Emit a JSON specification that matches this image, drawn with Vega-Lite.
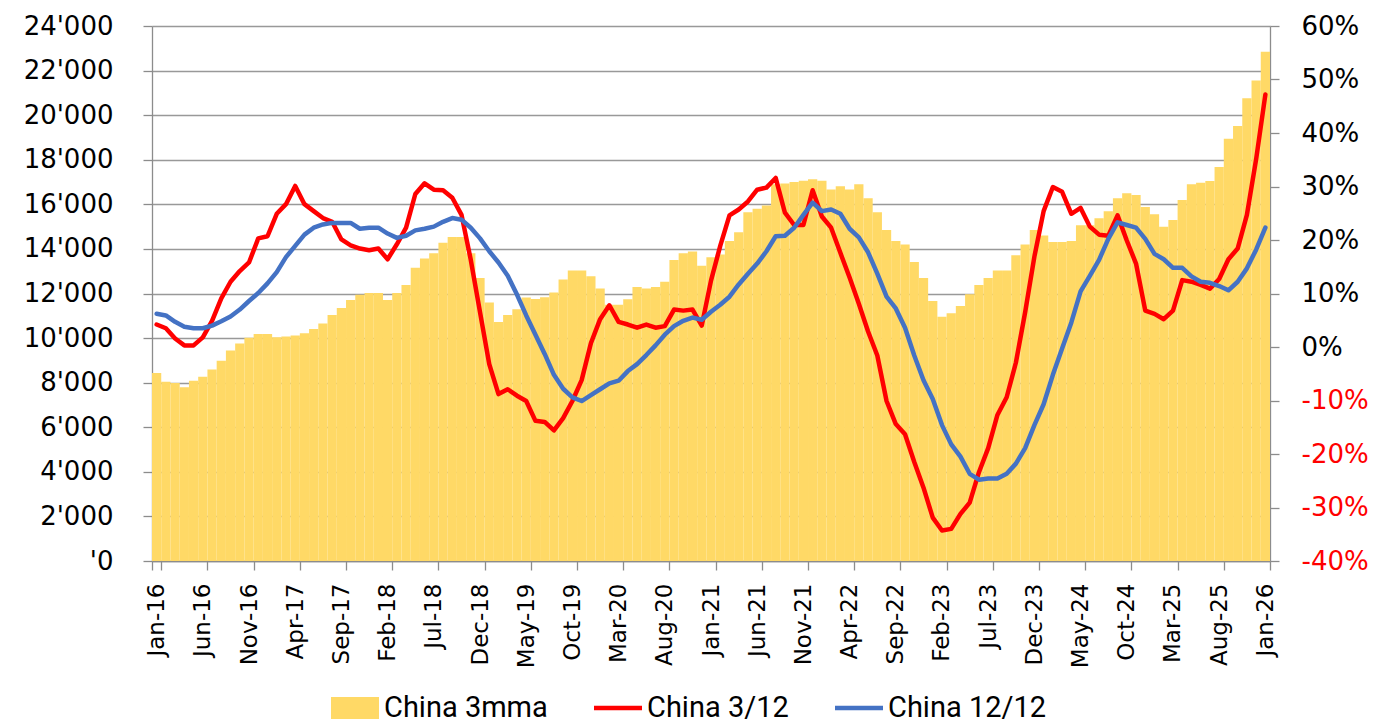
{
  "$schema": "https://vega.github.io/schema/vega-lite/v6.json",
  "width": 1118,
  "height": 535,
  "autosize": {"type": "none"},
  "padding": {"left": 152, "top": 26, "right": 103, "bottom": 163},
  "background": "white",
  "config": {
    "view": {"stroke": null},
    "axis": {
      "labelFont": "DejaVu Sans",
      "labelFontSize": 26,
      "labelColor": "#000000",
      "domainColor": "#8c8c8c",
      "tickColor": "#8c8c8c",
      "domainWidth": 1.3,
      "tickWidth": 1.3,
      "tickSize": 9,
      "gridColor": "#999999",
      "gridWidth": 1.4,
      "title": null
    }
  },
  "data": {
    "values": [
      {"m": "Jan-16", "mma": 8430, "r3": 4.2, "r12": 6.2},
      {"m": "Feb-16", "mma": 8040, "r3": 3.5, "r12": 5.9},
      {"m": "Mar-16", "mma": 7990, "r3": 1.6, "r12": 4.7},
      {"m": "Apr-16", "mma": 7800, "r3": 0.3, "r12": 3.8},
      {"m": "May-16", "mma": 8090, "r3": 0.3, "r12": 3.5},
      {"m": "Jun-16", "mma": 8270, "r3": 1.8, "r12": 3.5},
      {"m": "Jul-16", "mma": 8590, "r3": 4.9, "r12": 4.0},
      {"m": "Aug-16", "mma": 8980, "r3": 9.1, "r12": 4.8},
      {"m": "Sep-16", "mma": 9440, "r3": 12.2, "r12": 5.7},
      {"m": "Oct-16", "mma": 9760, "r3": 14.2, "r12": 7.0},
      {"m": "Nov-16", "mma": 10020, "r3": 15.8, "r12": 8.6},
      {"m": "Dec-16", "mma": 10180, "r3": 20.3, "r12": 10.1},
      {"m": "Jan-17", "mma": 10180, "r3": 20.7, "r12": 11.9},
      {"m": "Feb-17", "mma": 10040, "r3": 24.9, "r12": 14.0},
      {"m": "Mar-17", "mma": 10070, "r3": 26.7, "r12": 16.8},
      {"m": "Apr-17", "mma": 10115, "r3": 30.1, "r12": 18.9},
      {"m": "May-17", "mma": 10220, "r3": 26.7, "r12": 21.0},
      {"m": "Jun-17", "mma": 10410, "r3": 25.4, "r12": 22.3},
      {"m": "Jul-17", "mma": 10650, "r3": 24.1, "r12": 22.9},
      {"m": "Aug-17", "mma": 11040, "r3": 23.4, "r12": 23.2},
      {"m": "Sep-17", "mma": 11350, "r3": 20.1, "r12": 23.2},
      {"m": "Oct-17", "mma": 11710, "r3": 19.0, "r12": 23.2},
      {"m": "Nov-17", "mma": 11940, "r3": 18.4, "r12": 22.1},
      {"m": "Dec-17", "mma": 12020, "r3": 18.1, "r12": 22.3},
      {"m": "Jan-18", "mma": 12020, "r3": 18.4, "r12": 22.3},
      {"m": "Feb-18", "mma": 11710, "r3": 16.4, "r12": 21.2},
      {"m": "Mar-18", "mma": 12020, "r3": 19.2, "r12": 20.4},
      {"m": "Apr-18", "mma": 12380, "r3": 22.3, "r12": 20.8},
      {"m": "May-18", "mma": 13160, "r3": 28.6, "r12": 21.8},
      {"m": "Jun-18", "mma": 13570, "r3": 30.6, "r12": 22.1},
      {"m": "Jul-18", "mma": 13810, "r3": 29.4, "r12": 22.5},
      {"m": "Aug-18", "mma": 14280, "r3": 29.3, "r12": 23.4},
      {"m": "Sep-18", "mma": 14530, "r3": 27.9, "r12": 24.1},
      {"m": "Oct-18", "mma": 14530, "r3": 24.7, "r12": 23.8},
      {"m": "Nov-18", "mma": 13810, "r3": 16.3, "r12": 22.3},
      {"m": "Dec-18", "mma": 12690, "r3": 6.5, "r12": 20.3},
      {"m": "Jan-19", "mma": 11600, "r3": -3.2, "r12": 17.9},
      {"m": "Feb-19", "mma": 10720, "r3": -8.8, "r12": 15.8},
      {"m": "Mar-19", "mma": 11040, "r3": -7.9, "r12": 13.3},
      {"m": "Apr-19", "mma": 11290, "r3": -9.1, "r12": 9.8},
      {"m": "May-19", "mma": 11820, "r3": -10.1, "r12": 5.9},
      {"m": "Jun-19", "mma": 11750, "r3": -13.8, "r12": 2.3},
      {"m": "Jul-19", "mma": 11830, "r3": -14.0, "r12": -1.3},
      {"m": "Aug-19", "mma": 12040, "r3": -15.6, "r12": -5.2},
      {"m": "Sep-19", "mma": 12630, "r3": -13.3, "r12": -7.8},
      {"m": "Oct-19", "mma": 13030, "r3": -10.1, "r12": -9.4},
      {"m": "Nov-19", "mma": 13030, "r3": -6.2, "r12": -10.1},
      {"m": "Dec-19", "mma": 12770, "r3": 0.7, "r12": -9.0},
      {"m": "Jan-20", "mma": 12220, "r3": 5.2, "r12": -7.9},
      {"m": "Feb-20", "mma": 11500, "r3": 7.8, "r12": -6.8},
      {"m": "Mar-20", "mma": 11500, "r3": 4.7, "r12": -6.3},
      {"m": "Apr-20", "mma": 11740, "r3": 4.2, "r12": -4.5},
      {"m": "May-20", "mma": 12290, "r3": 3.6, "r12": -3.2},
      {"m": "Jun-20", "mma": 12220, "r3": 4.2, "r12": -1.5},
      {"m": "Jul-20", "mma": 12290, "r3": 3.6, "r12": 0.3},
      {"m": "Aug-20", "mma": 12530, "r3": 3.9, "r12": 2.3},
      {"m": "Sep-20", "mma": 13500, "r3": 7.0, "r12": 3.9},
      {"m": "Oct-20", "mma": 13810, "r3": 6.8, "r12": 4.9},
      {"m": "Nov-20", "mma": 13880, "r3": 7.0, "r12": 5.5},
      {"m": "Dec-20", "mma": 13250, "r3": 4.0, "r12": 5.1},
      {"m": "Jan-21", "mma": 13630, "r3": 12.4, "r12": 6.6},
      {"m": "Feb-21", "mma": 13750, "r3": 18.9, "r12": 7.9},
      {"m": "Mar-21", "mma": 14350, "r3": 24.6, "r12": 9.4},
      {"m": "Apr-21", "mma": 14750, "r3": 25.7, "r12": 11.7},
      {"m": "May-21", "mma": 15640, "r3": 27.2, "r12": 13.7},
      {"m": "Jun-21", "mma": 15800, "r3": 29.4, "r12": 15.6},
      {"m": "Jul-21", "mma": 15950, "r3": 29.8, "r12": 17.9},
      {"m": "Aug-21", "mma": 16900, "r3": 31.6, "r12": 20.7},
      {"m": "Sep-21", "mma": 16940, "r3": 25.1, "r12": 20.8},
      {"m": "Oct-21", "mma": 17000, "r3": 22.8, "r12": 22.3},
      {"m": "Nov-21", "mma": 17060, "r3": 22.8, "r12": 24.7},
      {"m": "Dec-21", "mma": 17120, "r3": 29.3, "r12": 27.0},
      {"m": "Jan-22", "mma": 17060, "r3": 24.4, "r12": 25.4},
      {"m": "Feb-22", "mma": 16660, "r3": 22.3, "r12": 25.7},
      {"m": "Mar-22", "mma": 16810, "r3": 17.6, "r12": 24.9},
      {"m": "Apr-22", "mma": 16670, "r3": 13.0, "r12": 22.1},
      {"m": "May-22", "mma": 16900, "r3": 8.1, "r12": 20.5},
      {"m": "Jun-22", "mma": 16270, "r3": 2.9, "r12": 17.7},
      {"m": "Jul-22", "mma": 15640, "r3": -1.6, "r12": 13.7},
      {"m": "Aug-22", "mma": 14850, "r3": -10.1, "r12": 9.4},
      {"m": "Sep-22", "mma": 14350, "r3": -14.4, "r12": 7.2},
      {"m": "Oct-22", "mma": 14200, "r3": -16.3, "r12": 3.6},
      {"m": "Nov-22", "mma": 13410, "r3": -21.5, "r12": -1.6},
      {"m": "Dec-22", "mma": 12690, "r3": -26.3, "r12": -6.2},
      {"m": "Jan-23", "mma": 11660, "r3": -31.9, "r12": -9.7},
      {"m": "Feb-23", "mma": 10960, "r3": -34.3, "r12": -14.6},
      {"m": "Mar-23", "mma": 11110, "r3": -34.0, "r12": -18.2},
      {"m": "Apr-23", "mma": 11440, "r3": -31.2, "r12": -20.5},
      {"m": "May-23", "mma": 11970, "r3": -29.1, "r12": -23.7},
      {"m": "Jun-23", "mma": 12380, "r3": -23.4, "r12": -24.8},
      {"m": "Jul-23", "mma": 12690, "r3": -18.9, "r12": -24.6},
      {"m": "Aug-23", "mma": 13030, "r3": -12.7, "r12": -24.6},
      {"m": "Sep-23", "mma": 13030, "r3": -9.4, "r12": -23.7},
      {"m": "Oct-23", "mma": 13720, "r3": -2.9, "r12": -21.8},
      {"m": "Nov-23", "mma": 14200, "r3": 6.5, "r12": -18.9},
      {"m": "Dec-23", "mma": 14850, "r3": 16.9, "r12": -14.6},
      {"m": "Jan-24", "mma": 14600, "r3": 25.4, "r12": -10.7},
      {"m": "Feb-24", "mma": 14310, "r3": 29.9, "r12": -5.2},
      {"m": "Mar-24", "mma": 14310, "r3": 29.0, "r12": -0.3},
      {"m": "Apr-24", "mma": 14360, "r3": 24.9, "r12": 4.6},
      {"m": "May-24", "mma": 15060, "r3": 26.0, "r12": 10.4},
      {"m": "Jun-24", "mma": 15060, "r3": 22.5, "r12": 13.3},
      {"m": "Jul-24", "mma": 15380, "r3": 21.0, "r12": 16.3},
      {"m": "Aug-24", "mma": 15690, "r3": 20.8, "r12": 20.2},
      {"m": "Sep-24", "mma": 16270, "r3": 24.6, "r12": 23.3},
      {"m": "Oct-24", "mma": 16500, "r3": 19.9, "r12": 22.8},
      {"m": "Nov-24", "mma": 16420, "r3": 15.6, "r12": 22.3},
      {"m": "Dec-24", "mma": 15880, "r3": 6.8, "r12": 20.2},
      {"m": "Jan-25", "mma": 15560, "r3": 6.2, "r12": 17.4},
      {"m": "Feb-25", "mma": 14990, "r3": 5.2, "r12": 16.4},
      {"m": "Mar-25", "mma": 15300, "r3": 6.8, "r12": 14.8},
      {"m": "Apr-25", "mma": 16190, "r3": 12.5, "r12": 14.8},
      {"m": "May-25", "mma": 16900, "r3": 12.2, "r12": 13.2},
      {"m": "Jun-25", "mma": 16970, "r3": 11.6, "r12": 12.2},
      {"m": "Jul-25", "mma": 17050, "r3": 10.9, "r12": 12.0},
      {"m": "Aug-25", "mma": 17670, "r3": 12.7, "r12": 11.4},
      {"m": "Sep-25", "mma": 18940, "r3": 16.4, "r12": 10.6},
      {"m": "Oct-25", "mma": 19510, "r3": 18.4, "r12": 12.2},
      {"m": "Nov-25", "mma": 20760, "r3": 24.7, "r12": 14.7},
      {"m": "Dec-25", "mma": 21560, "r3": 35.1, "r12": 18.2},
      {"m": "Jan-26", "mma": 22840, "r3": 47.2, "r12": 22.3}
    ]
  },
  "layer": [
    {
      "mark": {"type": "bar"},
      "encoding": {
        "x": {
          "field": "m",
          "type": "ordinal",
          "sort": null,
          "scale": {"paddingInner": 0, "paddingOuter": 0},
          "axis": {
            "values": ["Jan-16", "Jun-16", "Nov-16", "Apr-17", "Sep-17", "Feb-18", "Jul-18", "Dec-18", "May-19", "Oct-19", "Mar-20", "Aug-20", "Jan-21", "Jun-21", "Nov-21", "Apr-22", "Sep-22", "Feb-23", "Jul-23", "Dec-23", "May-24", "Oct-24", "Mar-25", "Aug-25", "Jan-26"],
            "labelAngle": 270,
            "labelFontSize": 23,
            "labelPadding": 13,
            "tickBand": "extent",
            "grid": false
          }
        },
        "y": {
          "field": "mma",
          "type": "quantitative",
          "scale": {"domain": [0, 24000], "nice": false},
          "axis": {
            "orient": "left",
            "tickCount": 12,
            "grid": true,
            "labelPadding": 30,
            "labelExpr": "datum.value == 0 ? \"'0\" : replace(format(datum.value, ','), ',', \"'\")"
          }
        },
        "color": {
          "datum": "China 3mma",
          "scale": {
            "domain": ["China 3mma", "China 3/12", "China 12/12"],
            "range": ["#FFD966", "#FF0000", "#4472C4"]
          },
          "legend": {
            "orient": "none",
            "legendX": 179,
            "legendY": 658,
            "direction": "horizontal",
            "title": null,
            "symbolType": "square",
            "symbolSize": 2304,
            "symbolStrokeWidth": 0,
            "labelFont": "Roboto",
            "labelFontSize": 29,
            "labelColor": "#000000",
            "labelOffset": 5,
            "labelLimit": 400,
            "columnPadding": 46,
            "padding": 0,
            "encode": {
              "symbols": {
                "update": {
                  "shape": {"signal": "datum.value === 'China 3mma' ? 'M-1,-0.46H1V0.46H-1Z' : 'M-1,-0.46M-1,0.46M-1,-0.09H1V0.09H-1Z'"},
                  "fill": {"signal": "scale('color', datum.value)"},
                  "stroke": {"value": "transparent"},
                  "strokeWidth": {"value": 0},
                  "opacity": {"value": 1}
                }
              }
            }
          }
        }
      }
    },
    {
      "layer": [
        {
          "mark": {"type": "line", "strokeWidth": 4.5, "strokeJoin": "round", "strokeCap": "round"},
          "encoding": {
            "x": {"field": "m", "type": "ordinal", "sort": null},
            "y": {
              "field": "r3",
              "type": "quantitative",
              "scale": {"domain": [-40, 60], "nice": false},
              "axis": {
                "orient": "right",
                "tickCount": 10,
                "grid": false,
                "labelPadding": 22,
                "labelExpr": "datum.value + '%'",
                "labelColor": {"condition": {"test": "datum.value < 0", "value": "#FF0000"}, "value": "#000000"}
              }
            },
            "color": {"datum": "China 3/12"}
          }
        },
        {
          "mark": {"type": "line", "strokeWidth": 4.5, "strokeJoin": "round", "strokeCap": "round"},
          "encoding": {
            "x": {"field": "m", "type": "ordinal", "sort": null},
            "y": {"field": "r12", "type": "quantitative"},
            "color": {"datum": "China 12/12"}
          }
        }
      ]
    }
  ],
  "resolve": {"scale": {"y": "independent"}}
}
